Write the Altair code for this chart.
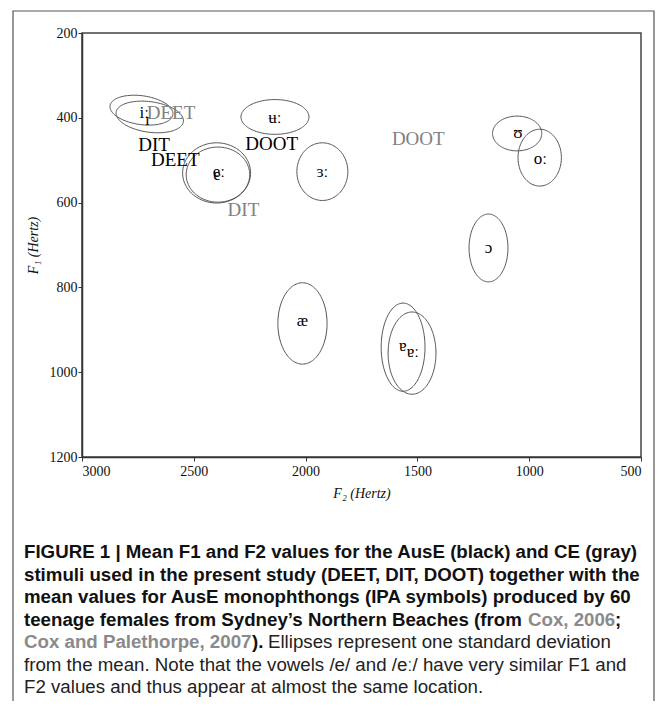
import altair as alt
import pandas as pd
import numpy as np

# ---------------- data ----------------
# Ellipses: one standard deviation around AusE monophthong means (Hz)
ell_name = ["iː", "ɪ", "e", "eː", "ʉː", "ɜː", "ʊ", "oː", "ɔ", "æ", "ɐ", "ɐː"]
ell_f2 = [2734, 2697, 2398, 2392, 2137, 1925, 1054, 953, 1182, 2014, 1564, 1524]
ell_f1 = [382, 398, 530, 534, 398, 527, 437, 494, 707, 885, 941, 955]
ell_sd2 = [142, 152, 152, 142, 152, 114, 110, 97, 87, 110, 98, 107]
ell_sd1 = [34, 36, 71, 65, 41, 68, 41, 67, 80, 96, 104, 97]
ell_tilt = [8, 8, 0, 0, 0, 0, 0, 0, 0, 0, 0, 0]   # degrees, on screen

# IPA symbol labels
ipa_text = ["iː", "ɪ", "e", "eː", "ʉː", "ɜː", "ʊ", "oː", "ɔ", "æ", "ɐ", "ɐː"]
ipa_f2 = [2722, 2708, 2396, 2388, 2137, 1925, 1050, 950, 1182, 2014, 1566, 1520]
ipa_f1 = [388, 406, 536, 528, 400, 527, 435, 497, 707, 880, 938, 952]

# Stimulus means (AusE black, CE gray)
stim_text = ["DEET", "DIT", "DOOT", "DEET", "DIT", "DOOT"]
stim_group = ["CE", "CE", "CE", "AusE", "AusE", "AusE"]
stim_f2 = [2602, 2278, 1496, 2583, 2678, 2152]
stim_f1 = [388, 617, 451, 500, 464, 461]

# axis ticks
x_ticks = [3000, 2500, 2000, 1500, 1000, 500]
y_ticks = [200, 400, 600, 800, 1000, 1200]

# layout (page pixels)
PL, PT = 82, 33          # plot origin on the page
W, H = 559, 424
KX, KY = W / 2500.0, H / 1000.0   # px per Hz, used only to tilt outlines on screen

# ---------------- build tables ----------------
t = np.linspace(0, 2 * np.pi, 121)
rows = []
for i, n in enumerate(ell_name):
    a = np.deg2rad(ell_tilt[i])
    for k, tt in enumerate(t):
        dx = ell_sd2[i] * np.cos(tt) * KX
        dy = ell_sd1[i] * np.sin(tt) * KY
        rx = dx * np.cos(a) - dy * np.sin(a)
        ry = dx * np.sin(a) + dy * np.cos(a)
        rows.append({"id": i, "k": k,
                     "F2": ell_f2[i] - rx / KX,
                     "F1": ell_f1[i] + ry / KY})
ell_df = pd.DataFrame(rows)
ipa_df = pd.DataFrame({"text": ipa_text, "F2": ipa_f2, "F1": ipa_f1})
stim_df = pd.DataFrame({"text": stim_text, "group": stim_group, "F2": stim_f2, "F1": stim_f1})

xs = alt.Scale(domain=[500, 3000], reverse=True, nice=False, zero=False)
ys = alt.Scale(domain=[200, 1200], reverse=True, nice=False, zero=False)

SERIF = "Liberation Serif, DejaVu Serif, serif"

x_enc = alt.X("F2:Q", scale=xs,
              axis=alt.Axis(values=x_ticks, title="F₂ (Hertz)", titleFontStyle="italic",
                            titleY=36, titleBaseline="middle", labelPadding=3,
                            tickSize=4, format="d"))
y_enc = alt.Y("F1:Q", scale=ys,
              axis=alt.Axis(values=y_ticks, title="F₁ (Hertz)", titleFontStyle="italic",
                            titleX=-49, titleY=H / 2, titleAngle=-90, titleAlign="center",
                            titleBaseline="middle", labelPadding=1, tickSize=4, format="d"))

ellipses = alt.Chart(ell_df).mark_line(color="#555", strokeWidth=1, clip=True).encode(
    x=x_enc, y=y_enc, detail="id:N", order="k:Q")

ipa = alt.Chart(ipa_df).mark_text(font=SERIF, fontSize=17, color="black",
                                  baseline="middle", align="center").encode(
    x=alt.X("F2:Q", scale=xs), y=alt.Y("F1:Q", scale=ys), text="text:N")

stim = alt.Chart(stim_df).mark_text(font=SERIF, fontSize=19,
                                    baseline="middle", align="center").encode(
    x=alt.X("F2:Q", scale=xs), y=alt.Y("F1:Q", scale=ys), text="text:N",
    color=alt.Color("group:N", scale=alt.Scale(domain=["AusE", "CE"], range=["#000000", "#808080"]),
                    legend=None))

# ---------------- caption (figure legend text) ----------------
CAP_FONT = "Liberation Sans, Arial, sans-serif"
CAP_SIZE = 18.7
CX = 24
line_y = [552, 574.5, 597, 619.5, 642, 664.5, 687]
cap_runs = [
    ("FIGURE 1 | Mean F1 and F2 values for the AusE (black) and CE (gray)", CX, 0, "b"),
    ("stimuli used in the present study (DEET, DIT, DOOT) together with the", CX, 1, "b"),
    ("mean values for AusE monophthongs (IPA symbols) produced by 60", CX, 2, "b"),
    ("teenage females from Sydney’s Northern Beaches (from", CX, 3, "b"),
    ("Cox, 2006", CX + 504, 3, "g"),
    (";", CX + 591, 3, "b"),
    ("Cox and Palethorpe, 2007", CX, 4, "g"),
    (").", CX + 228, 4, "b"),
    ("Ellipses represent one standard deviation", CX + 244, 4, "r"),
    ("from the mean. Note that the vowels /e/ and /eː/ have very similar F1 and", CX, 5, "r"),
    ("F2 values and thus appear at almost the same location.", CX, 6, "r"),
]
cap_df = pd.DataFrame([{"text": r[0], "px": r[1] - PL, "py": line_y[r[2]] - PT, "s": r[3]}
                       for r in cap_runs])

def cap_layer(style, weight, color):
    return alt.Chart(cap_df).transform_filter(alt.datum.s == style).mark_text(
        font=CAP_FONT, fontSize=CAP_SIZE, fontWeight=weight, color=color,
        align="left", baseline="middle").encode(
        x=alt.X("px:Q", scale=None), y=alt.Y("py:Q", scale=None), text="text:N")

caption = cap_layer("b", "bold", "#111") + cap_layer("g", "bold", "#8a8a8a") + \
    cap_layer("r", "normal", "#222")

frame = alt.Chart(pd.DataFrame({"a": [0]})).mark_rect(
    fillOpacity=0, stroke="#555", strokeWidth=1.2).encode(
    x=alt.value(13 - PL), x2=alt.value(654 - PL),
    y=alt.value(11 - PT), y2=alt.value(730 - PT))

chart = alt.layer(frame, ellipses, ipa, stim, caption).properties(
    width=W, height=H,
    autosize=alt.AutoSizeParams(type="none"),
    padding={"left": PL - 8, "top": PT - 8, "right": 651 - (PL - 8) - W,
             "bottom": 693 - (PT - 8) - H},
    background="white",
).configure_view(stroke="#444", strokeWidth=1.5).configure_axis(
    grid=False, domainColor="#333", domainWidth=1.5, tickColor="#333",
    labelFont=SERIF, labelFontSize=14, labelColor="#111",
    titleFont=SERIF, titleFontSize=14, titleFontWeight="normal", titleColor="#111",
)

chart.save("out.html", embed_options={"renderer": "svg", "actions": False})
